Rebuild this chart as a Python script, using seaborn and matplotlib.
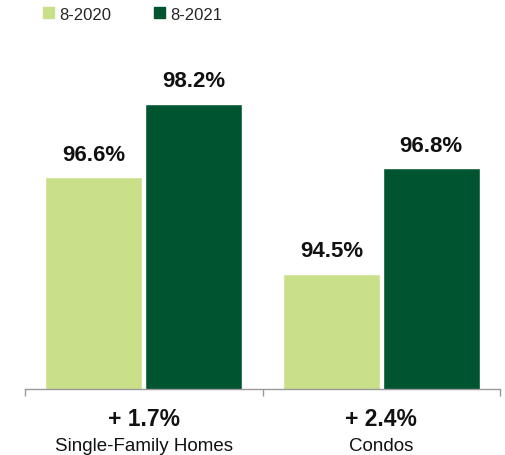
import matplotlib
matplotlib.use("Agg")
import matplotlib.pyplot as plt
import seaborn as sns
import pandas as pd

categories = ["Single-Family Homes", "Condos"]
periods = ["8-2020", "8-2021"]
values_2020 = [96.6, 94.5]
values_2021 = [98.2, 96.8]
changes = ["+ 1.7%", "+ 2.4%"]
colors = ["#C9DF8A", "#005530"]

df = pd.DataFrame({
    "category": categories * 2,
    "period": [periods[0]] * 2 + [periods[1]] * 2,
    "value": values_2020 + values_2021,
})

sns.set_theme(style="white")
plt.rcParams["font.family"] = ["Liberation Sans", "DejaVu Sans"]

fig = plt.figure(figsize=(5.05, 4.56), dpi=100)
ax = fig.add_axes([25 / 505, 66 / 456, 475 / 505, 368 / 456])

sns.barplot(data=df, x="category", y="value", hue="period", order=categories,
            hue_order=periods, palette=colors, width=0.84, gap=0.03,
            saturation=1, ax=ax, legend=True)

ax.set_ylim(92, 100)
ax.set_xlim(-0.5, 1.5)

for cont in ax.containers:
    for bar in cont:
        h = bar.get_height()
        ax.annotate(f"{h:.1f}%", (bar.get_x() + bar.get_width() / 2, h),
                    xytext=(0, 9), textcoords="offset points",
                    ha="center", va="bottom", fontsize=16, fontweight="bold",
                    color="#111111")

for sp in ["left", "right", "top"]:
    ax.spines[sp].set_visible(False)
ax.spines["bottom"].set_color("#999999")
ax.spines["bottom"].set_linewidth(1)
ax.set_yticks([])
ax.set_ylabel("")
ax.set_xlabel("")
ax.set_xticks([])
ax.set_xticks([-0.5, 0.5, 1.5], minor=True)
ax.tick_params(axis="x", which="minor", length=5, width=1, color="#999999",
               direction="out", bottom=True)

for i, (cat, ch) in enumerate(zip(categories, changes)):
    ax.text(i, -30 / 368, ch, transform=ax.get_xaxis_transform(),
            ha="center", va="center", fontsize=16.5, fontweight="bold", color="#111111")
    ax.text(i, -57 / 368, cat, transform=ax.get_xaxis_transform(),
            ha="center", va="center", fontsize=13.5, color="#111111")

ax.legend_.remove()
handles = [plt.Rectangle((0, 0), 1, 1, color=c) for c in colors]
fig.legend(handles, periods, loc="center left", bbox_to_anchor=(43 / 505, 1 - 15 / 456),
           ncol=2, frameon=False, fontsize=12, handlelength=0.65, handleheight=0.65,
           handletextpad=0.3, columnspacing=2.6, borderaxespad=0, borderpad=0)

fig.savefig("out.png", dpi=100)
